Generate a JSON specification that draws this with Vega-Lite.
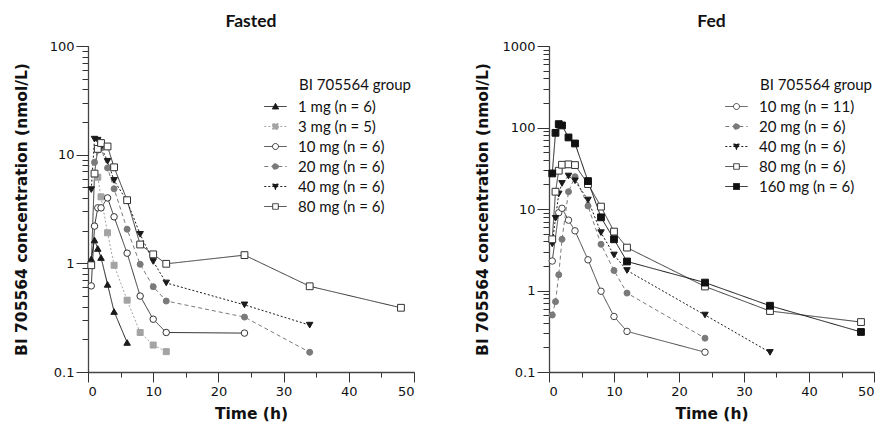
{
  "$schema": "https://vega.github.io/schema/vega-lite/v6.json",
  "padding": {"left": 14, "top": 12, "right": 0, "bottom": 5},
  "config": {
    "view": {"stroke": null},
    "font": "Lato",
    "axis": {
      "domainColor": "#444",
      "domainWidth": 1.3,
      "tickColor": "#333",
      "tickWidth": 1,
      "grid": false,
      "labelFont": "DejaVu Sans",
      "labelFontSize": 13,
      "labelColor": "#111",
      "titleFont": "DejaVu Sans",
      "titleFontWeight": "bold",
      "titleFontSize": 15.5,
      "titleColor": "#111"
    },
    "legend": {
      "orient": "none",
      "padding": 0,
      "titleFont": "Lato",
      "titleFontWeight": "normal",
      "titleFontSize": 15,
      "titleColor": "#111",
      "titlePadding": 6,
      "labelFont": "Lato",
      "labelFontSize": 15,
      "labelColor": "#111",
      "symbolSize": 196,
      "labelOffset": 15,
      "rowPadding": 4,
      "symbolStrokeWidth": 1,
      "symbolOpacity": 1
    },
    "title": {"font": "Lato", "fontSize": 17.5, "fontWeight": "bold", "color": "#111", "frame": "group", "anchor": "middle", "offset": 10}
  },
  "datasets": {
    "fasted": [
      {"g": "1 mg (n = 6)", "t": 0.5, "c": 1.10}, {"g": "1 mg (n = 6)", "t": 1, "c": 1.64}, {"g": "1 mg (n = 6)", "t": 1.5, "c": 1.37}, {"g": "1 mg (n = 6)", "t": 2, "c": 1.13}, {"g": "1 mg (n = 6)", "t": 3, "c": 0.64}, {"g": "1 mg (n = 6)", "t": 4, "c": 0.36}, {"g": "1 mg (n = 6)", "t": 6, "c": 0.187},
      {"g": "3 mg (n = 5)", "t": 1.5, "c": 6.2}, {"g": "3 mg (n = 5)", "t": 2, "c": 4.09}, {"g": "3 mg (n = 5)", "t": 3, "c": 1.91}, {"g": "3 mg (n = 5)", "t": 4, "c": 0.96}, {"g": "3 mg (n = 5)", "t": 6, "c": 0.458}, {"g": "3 mg (n = 5)", "t": 8, "c": 0.231}, {"g": "3 mg (n = 5)", "t": 10, "c": 0.177}, {"g": "3 mg (n = 5)", "t": 12, "c": 0.154},
      {"g": "10 mg (n = 6)", "t": 0.5, "c": 0.62}, {"g": "10 mg (n = 6)", "t": 1, "c": 2.2}, {"g": "10 mg (n = 6)", "t": 1.5, "c": 3.24}, {"g": "10 mg (n = 6)", "t": 2, "c": 3.24}, {"g": "10 mg (n = 6)", "t": 3, "c": 4.0}, {"g": "10 mg (n = 6)", "t": 4, "c": 2.68}, {"g": "10 mg (n = 6)", "t": 6, "c": 1.24}, {"g": "10 mg (n = 6)", "t": 8, "c": 0.50}, {"g": "10 mg (n = 6)", "t": 10, "c": 0.306}, {"g": "10 mg (n = 6)", "t": 12, "c": 0.231}, {"g": "10 mg (n = 6)", "t": 24, "c": 0.228},
      {"g": "20 mg (n = 6)", "t": 1, "c": 8.5}, {"g": "20 mg (n = 6)", "t": 1.5, "c": 11}, {"g": "20 mg (n = 6)", "t": 2, "c": 11.5}, {"g": "20 mg (n = 6)", "t": 3, "c": 7.55}, {"g": "20 mg (n = 6)", "t": 4, "c": 4.85}, {"g": "20 mg (n = 6)", "t": 6, "c": 2.06}, {"g": "20 mg (n = 6)", "t": 8, "c": 0.98}, {"g": "20 mg (n = 6)", "t": 10, "c": 0.61}, {"g": "20 mg (n = 6)", "t": 12, "c": 0.45}, {"g": "20 mg (n = 6)", "t": 24, "c": 0.32}, {"g": "20 mg (n = 6)", "t": 34, "c": 0.152},
      {"g": "40 mg (n = 6)", "t": 0.5, "c": 4.77}, {"g": "40 mg (n = 6)", "t": 1, "c": 13.9}, {"g": "40 mg (n = 6)", "t": 1.5, "c": 13.6}, {"g": "40 mg (n = 6)", "t": 2, "c": 11.8}, {"g": "40 mg (n = 6)", "t": 3, "c": 8.7}, {"g": "40 mg (n = 6)", "t": 4, "c": 5.8}, {"g": "40 mg (n = 6)", "t": 6, "c": 3.73}, {"g": "40 mg (n = 6)", "t": 8, "c": 1.85}, {"g": "40 mg (n = 6)", "t": 10, "c": 1.04}, {"g": "40 mg (n = 6)", "t": 12, "c": 0.66}, {"g": "40 mg (n = 6)", "t": 24, "c": 0.415}, {"g": "40 mg (n = 6)", "t": 34, "c": 0.27},
      {"g": "80 mg (n = 6)", "t": 0.5, "c": 0.96}, {"g": "80 mg (n = 6)", "t": 1, "c": 6.7}, {"g": "80 mg (n = 6)", "t": 1.5, "c": 11.3}, {"g": "80 mg (n = 6)", "t": 2, "c": 12.8}, {"g": "80 mg (n = 6)", "t": 3, "c": 11.9}, {"g": "80 mg (n = 6)", "t": 4, "c": 7.65}, {"g": "80 mg (n = 6)", "t": 6, "c": 3.81}, {"g": "80 mg (n = 6)", "t": 8, "c": 1.49}, {"g": "80 mg (n = 6)", "t": 10, "c": 1.21}, {"g": "80 mg (n = 6)", "t": 12, "c": 0.99}, {"g": "80 mg (n = 6)", "t": 24, "c": 1.19}, {"g": "80 mg (n = 6)", "t": 34, "c": 0.615}, {"g": "80 mg (n = 6)", "t": 48, "c": 0.39}
    ],
    "fed": [
      {"g": "10 mg (n = 11)", "t": 0.5, "c": 2.3}, {"g": "10 mg (n = 11)", "t": 1.5, "c": 9.0}, {"g": "10 mg (n = 11)", "t": 2, "c": 10.2}, {"g": "10 mg (n = 11)", "t": 3, "c": 7.3}, {"g": "10 mg (n = 11)", "t": 4, "c": 5.4}, {"g": "10 mg (n = 11)", "t": 6, "c": 2.38}, {"g": "10 mg (n = 11)", "t": 8, "c": 0.98}, {"g": "10 mg (n = 11)", "t": 10, "c": 0.48}, {"g": "10 mg (n = 11)", "t": 12, "c": 0.315}, {"g": "10 mg (n = 11)", "t": 24, "c": 0.175},
      {"g": "20 mg (n = 6)", "t": 0.5, "c": 0.50}, {"g": "20 mg (n = 6)", "t": 1, "c": 0.73}, {"g": "20 mg (n = 6)", "t": 1.5, "c": 1.56}, {"g": "20 mg (n = 6)", "t": 2, "c": 4.25}, {"g": "20 mg (n = 6)", "t": 3, "c": 16.3}, {"g": "20 mg (n = 6)", "t": 4, "c": 24.9}, {"g": "20 mg (n = 6)", "t": 6, "c": 10.9}, {"g": "20 mg (n = 6)", "t": 8, "c": 3.69}, {"g": "20 mg (n = 6)", "t": 10, "c": 1.76}, {"g": "20 mg (n = 6)", "t": 12, "c": 0.93}, {"g": "20 mg (n = 6)", "t": 24, "c": 0.26},
      {"g": "40 mg (n = 6)", "t": 0.5, "c": 3.73}, {"g": "40 mg (n = 6)", "t": 1, "c": 7.7}, {"g": "40 mg (n = 6)", "t": 1.5, "c": 15.3}, {"g": "40 mg (n = 6)", "t": 2, "c": 20.6}, {"g": "40 mg (n = 6)", "t": 3, "c": 25.4}, {"g": "40 mg (n = 6)", "t": 4, "c": 22.2}, {"g": "40 mg (n = 6)", "t": 6, "c": 12.9}, {"g": "40 mg (n = 6)", "t": 8, "c": 5.13}, {"g": "40 mg (n = 6)", "t": 10, "c": 2.73}, {"g": "40 mg (n = 6)", "t": 12, "c": 1.76}, {"g": "40 mg (n = 6)", "t": 24, "c": 0.50}, {"g": "40 mg (n = 6)", "t": 34, "c": 0.174},
      {"g": "80 mg (n = 6)", "t": 0.5, "c": 4.25}, {"g": "80 mg (n = 6)", "t": 1, "c": 16.3}, {"g": "80 mg (n = 6)", "t": 1.5, "c": 29.5}, {"g": "80 mg (n = 6)", "t": 2, "c": 34.9}, {"g": "80 mg (n = 6)", "t": 3, "c": 35.3}, {"g": "80 mg (n = 6)", "t": 4, "c": 34.6}, {"g": "80 mg (n = 6)", "t": 6, "c": 20.2}, {"g": "80 mg (n = 6)", "t": 8, "c": 10.7}, {"g": "80 mg (n = 6)", "t": 10, "c": 5.28}, {"g": "80 mg (n = 6)", "t": 12, "c": 3.36}, {"g": "80 mg (n = 6)", "t": 24, "c": 1.12}, {"g": "80 mg (n = 6)", "t": 34, "c": 0.56}, {"g": "80 mg (n = 6)", "t": 48, "c": 0.41},
      {"g": "160 mg (n = 6)", "t": 0.5, "c": 27.3}, {"g": "160 mg (n = 6)", "t": 1, "c": 86}, {"g": "160 mg (n = 6)", "t": 1.5, "c": 110}, {"g": "160 mg (n = 6)", "t": 2, "c": 106}, {"g": "160 mg (n = 6)", "t": 3, "c": 75.5}, {"g": "160 mg (n = 6)", "t": 4, "c": 63.7}, {"g": "160 mg (n = 6)", "t": 6, "c": 22}, {"g": "160 mg (n = 6)", "t": 8, "c": 7.9}, {"g": "160 mg (n = 6)", "t": 10, "c": 4.25}, {"g": "160 mg (n = 6)", "t": 12, "c": 2.27}, {"g": "160 mg (n = 6)", "t": 24, "c": 1.25}, {"g": "160 mg (n = 6)", "t": 34, "c": 0.65}, {"g": "160 mg (n = 6)", "t": 48, "c": 0.31}
    ]
  },
  "spacing": 60,
  "resolve": {
    "scale": {"x": "independent", "y": "independent", "color": "independent", "shape": "independent", "fill": "independent", "strokeDash": "independent"},
    "legend": {"color": "independent", "shape": "independent", "fill": "independent", "strokeDash": "independent"}
  },
  "hconcat": [
    {
      "width": 326, "height": 326,
      "title": {"text": "Fasted"},
      "data": {"name": "fasted"},
      "resolve": {"scale": {"x": "independent", "y": "independent"}, "axis": {"x": "independent", "y": "independent"}},
      "layer": [
        {
          "encoding": {
            "x": {"field": "t", "type": "quantitative", "scale": {"domain": [0, 50], "nice": false},
              "axis": {"title": "Time (h)", "values": [0, 5, 10, 15, 20, 25, 30, 35, 40, 45, 50], "labelExpr": "datum.value % 10 == 0 ? datum.label : ''", "tickSize": 5, "labelPadding": 8, "titlePadding": 8}},
            "y": {"field": "c", "type": "quantitative", "scale": {"type": "log", "domain": [0.1, 100], "nice": false},
              "axis": {"title": "BI 705564 concentration (nmol/L)", "values": [0.1, 0.2, 0.3, 0.4, 0.5, 0.6, 0.7, 0.8, 0.9, 1, 2, 3, 4, 5, 6, 7, 8, 9, 10, 20, 30, 40, 50, 60, 70, 80, 90, 100],
                "labelExpr": "indexof([0.1, 1, 10, 100, 1000], datum.value) >= 0 ? format(datum.value, '~g') : ''",
                "tickSize": 6, "labelPadding": 8, "titlePadding": 20}}
          },
          "layer": [
            {
              "mark": {"type": "line", "strokeWidth": 1},
              "encoding": {
                "color": {"field": "g", "type": "nominal", "legend": {"title": "BI 705564 group", "orient": "none", "legendX": 180, "legendY": 32, "encode": {"title": {"update": {"dx": {"value": 31}}}}},
                  "scale": {"domain": ["1 mg (n = 6)", "3 mg (n = 5)", "10 mg (n = 6)", "20 mg (n = 6)", "40 mg (n = 6)", "80 mg (n = 6)"], "range": ["#1a1a1a", "#a3a3a3", "#333333", "#7a7a7a", "#1a1a1a", "#333333"]}},
                "strokeDash": {"field": "g", "type": "nominal", "legend": {"title": "BI 705564 group", "orient": "none", "legendX": 180, "legendY": 32, "encode": {"title": {"update": {"dx": {"value": 31}}}}},
                  "scale": {"domain": ["1 mg (n = 6)", "3 mg (n = 5)", "10 mg (n = 6)", "20 mg (n = 6)", "40 mg (n = 6)", "80 mg (n = 6)"], "range": [[1, 0], [2, 2], [1, 0], [4, 3], [2, 2], [1, 0]]}}
              }
            },
            {"transform": [{"filter": {"field": "g", "equal": "1 mg (n = 6)"}}], "mark": {"type": "point", "shape": "triangle-up", "fill": "#1a1a1a", "stroke": "#1a1a1a", "strokeWidth": 1, "size": 42, "opacity": 1}},
            {"transform": [{"filter": {"field": "g", "equal": "3 mg (n = 5)"}}], "mark": {"type": "point", "shape": "square", "fill": "#a3a3a3", "stroke": "#a3a3a3", "strokeWidth": 1, "size": 36, "opacity": 1}},
            {"transform": [{"filter": {"field": "g", "equal": "10 mg (n = 6)"}}], "mark": {"type": "point", "shape": "circle", "fill": "#ffffff", "stroke": "#333333", "strokeWidth": 1, "size": 42, "opacity": 1}},
            {"transform": [{"filter": {"field": "g", "equal": "20 mg (n = 6)"}}], "mark": {"type": "point", "shape": "circle", "fill": "#7a7a7a", "stroke": "#7a7a7a", "strokeWidth": 1, "size": 36, "opacity": 1}},
            {"transform": [{"filter": {"field": "g", "equal": "40 mg (n = 6)"}}], "mark": {"type": "point", "shape": "triangle-down", "fill": "#1a1a1a", "stroke": "#1a1a1a", "strokeWidth": 1, "size": 42, "opacity": 1}},
            {"transform": [{"filter": {"field": "g", "equal": "80 mg (n = 6)"}}], "mark": {"type": "point", "shape": "square", "fill": "#ffffff", "stroke": "#333333", "strokeWidth": 1, "size": 46, "opacity": 1}},
            {
              "mark": {"type": "point", "opacity": 0, "strokeWidth": 1},
              "encoding": {
                "shape": {"field": "g", "type": "nominal",
                  "scale": {"domain": ["1 mg (n = 6)", "3 mg (n = 5)", "10 mg (n = 6)", "20 mg (n = 6)", "40 mg (n = 6)", "80 mg (n = 6)"],
                    "range": ["M-1.6,0H1.6M0,-0.45L0.45,0.35L-0.45,0.35Z", "M-1.6,0H1.6M-0.4,-0.4H0.4V0.4H-0.4Z", "M-1.6,0H-0.43M0.43,0H1.6M-0.43,0A0.43,0.43,0,1,0,0.43,0A0.43,0.43,0,1,0,-0.43,0Z", "M-1.6,0H1.6M-0.43,0A0.43,0.43,0,1,0,0.43,0A0.43,0.43,0,1,0,-0.43,0Z", "M-1.6,0H1.6M-0.45,-0.35L0.45,-0.35L0,0.45Z", "M-1.6,0H-0.4M0.4,0H1.6M-0.4,-0.4H0.4V0.4H-0.4Z"]},
                  "legend": {"title": "BI 705564 group", "orient": "none", "legendX": 180, "legendY": 32, "encode": {"title": {"update": {"dx": {"value": 31}}}}}},
                "color": {"field": "g", "type": "nominal", "legend": {"title": "BI 705564 group", "orient": "none", "legendX": 180, "legendY": 32, "encode": {"title": {"update": {"dx": {"value": 31}}}}}},
                "fill": {"field": "g", "type": "nominal",
                  "scale": {"domain": ["1 mg (n = 6)", "3 mg (n = 5)", "10 mg (n = 6)", "20 mg (n = 6)", "40 mg (n = 6)", "80 mg (n = 6)"], "range": ["#1a1a1a", "#a3a3a3", "#ffffff", "#7a7a7a", "#1a1a1a", "#ffffff"]},
                  "legend": {"title": "BI 705564 group", "orient": "none", "legendX": 180, "legendY": 32, "encode": {"title": {"update": {"dx": {"value": 31}}}}}}
              }
            }
          ]
        },
        {
          "mark": {"type": "point", "opacity": 0},
          "encoding": {
            "x": {"field": "t", "type": "quantitative", "scale": {"domain": [0, 50], "nice": false},
              "axis": {"orient": "bottom", "title": null, "values": [0, 10, 20, 30, 40, 50], "labels": false, "domain": false, "tickSize": 10}},
            "y": {"field": "c", "type": "quantitative", "scale": {"type": "log", "domain": [0.1, 100], "nice": false},
              "axis": {"orient": "left", "title": null, "values": [0.1, 1, 10, 100], "labels": false, "domain": false, "tickSize": 12}}
          }
        }
      ]
    },
    {
      "width": 325, "height": 326,
      "title": {"text": "Fed"},
      "data": {"name": "fed"},
      "resolve": {"scale": {"x": "independent", "y": "independent"}, "axis": {"x": "independent", "y": "independent"}},
      "layer": [
        {
          "encoding": {
            "x": {"field": "t", "type": "quantitative", "scale": {"domain": [0, 50], "nice": false},
              "axis": {"title": "Time (h)", "values": [0, 5, 10, 15, 20, 25, 30, 35, 40, 45, 50], "labelExpr": "datum.value % 10 == 0 ? datum.label : ''", "tickSize": 5, "labelPadding": 8, "titlePadding": 8}},
            "y": {"field": "c", "type": "quantitative", "scale": {"type": "log", "domain": [0.1, 1000], "nice": false},
              "axis": {"title": "BI 705564 concentration (nmol/L)", "values": [0.1, 0.2, 0.3, 0.4, 0.5, 0.6, 0.7, 0.8, 0.9, 1, 2, 3, 4, 5, 6, 7, 8, 9, 10, 20, 30, 40, 50, 60, 70, 80, 90, 100, 200, 300, 400, 500, 600, 700, 800, 900, 1000],
                "labelExpr": "indexof([0.1, 1, 10, 100, 1000], datum.value) >= 0 ? format(datum.value, '~g') : ''",
                "tickSize": 6, "labelPadding": 8, "titlePadding": 11}}
          },
          "layer": [
            {
              "mark": {"type": "line", "strokeWidth": 1},
              "encoding": {
                "color": {"field": "g", "type": "nominal", "legend": {"title": "BI 705564 group", "orient": "none", "legendX": 180, "legendY": 32, "encode": {"title": {"update": {"dx": {"value": 31}}}}},
                  "scale": {"domain": ["10 mg (n = 11)", "20 mg (n = 6)", "40 mg (n = 6)", "80 mg (n = 6)", "160 mg (n = 6)"], "range": ["#444444", "#7a7a7a", "#1a1a1a", "#333333", "#111111"]}},
                "strokeDash": {"field": "g", "type": "nominal", "legend": {"title": "BI 705564 group", "orient": "none", "legendX": 180, "legendY": 32, "encode": {"title": {"update": {"dx": {"value": 31}}}}},
                  "scale": {"domain": ["10 mg (n = 11)", "20 mg (n = 6)", "40 mg (n = 6)", "80 mg (n = 6)", "160 mg (n = 6)"], "range": [[1, 0], [4, 3], [2, 2], [1, 0], [1, 0]]}}
              }
            },
            {"transform": [{"filter": {"field": "g", "equal": "10 mg (n = 11)"}}], "mark": {"type": "point", "shape": "circle", "fill": "#ffffff", "stroke": "#444444", "strokeWidth": 1, "size": 42, "opacity": 1}},
            {"transform": [{"filter": {"field": "g", "equal": "20 mg (n = 6)"}}], "mark": {"type": "point", "shape": "circle", "fill": "#7a7a7a", "stroke": "#7a7a7a", "strokeWidth": 1, "size": 36, "opacity": 1}},
            {"transform": [{"filter": {"field": "g", "equal": "40 mg (n = 6)"}}], "mark": {"type": "point", "shape": "triangle-down", "fill": "#1a1a1a", "stroke": "#1a1a1a", "strokeWidth": 1, "size": 42, "opacity": 1}},
            {"transform": [{"filter": {"field": "g", "equal": "80 mg (n = 6)"}}], "mark": {"type": "point", "shape": "square", "fill": "#ffffff", "stroke": "#333333", "strokeWidth": 1, "size": 46, "opacity": 1}},
            {"transform": [{"filter": {"field": "g", "equal": "160 mg (n = 6)"}}], "mark": {"type": "point", "shape": "square", "fill": "#111111", "stroke": "#111111", "strokeWidth": 1, "size": 46, "opacity": 1}},
            {
              "mark": {"type": "point", "opacity": 0, "strokeWidth": 1},
              "encoding": {
                "shape": {"field": "g", "type": "nominal",
                  "scale": {"domain": ["10 mg (n = 11)", "20 mg (n = 6)", "40 mg (n = 6)", "80 mg (n = 6)", "160 mg (n = 6)"],
                    "range": ["M-1.6,0H-0.43M0.43,0H1.6M-0.43,0A0.43,0.43,0,1,0,0.43,0A0.43,0.43,0,1,0,-0.43,0Z", "M-1.6,0H1.6M-0.43,0A0.43,0.43,0,1,0,0.43,0A0.43,0.43,0,1,0,-0.43,0Z", "M-1.6,0H1.6M-0.45,-0.35L0.45,-0.35L0,0.45Z", "M-1.6,0H-0.4M0.4,0H1.6M-0.4,-0.4H0.4V0.4H-0.4Z", "M-1.6,0H1.6M-0.43,-0.43H0.43V0.43H-0.43Z"]},
                  "legend": {"title": "BI 705564 group", "orient": "none", "legendX": 180, "legendY": 32, "encode": {"title": {"update": {"dx": {"value": 31}}}}}},
                "color": {"field": "g", "type": "nominal", "legend": {"title": "BI 705564 group", "orient": "none", "legendX": 180, "legendY": 32, "encode": {"title": {"update": {"dx": {"value": 31}}}}}},
                "fill": {"field": "g", "type": "nominal",
                  "scale": {"domain": ["10 mg (n = 11)", "20 mg (n = 6)", "40 mg (n = 6)", "80 mg (n = 6)", "160 mg (n = 6)"], "range": ["#ffffff", "#7a7a7a", "#1a1a1a", "#ffffff", "#111111"]},
                  "legend": {"title": "BI 705564 group", "orient": "none", "legendX": 180, "legendY": 32, "encode": {"title": {"update": {"dx": {"value": 31}}}}}}
              }
            }
          ]
        },
        {
          "mark": {"type": "point", "opacity": 0},
          "encoding": {
            "x": {"field": "t", "type": "quantitative", "scale": {"domain": [0, 50], "nice": false},
              "axis": {"orient": "bottom", "title": null, "values": [0, 10, 20, 30, 40, 50], "labels": false, "domain": false, "tickSize": 10}},
            "y": {"field": "c", "type": "quantitative", "scale": {"type": "log", "domain": [0.1, 1000], "nice": false},
              "axis": {"orient": "left", "title": null, "values": [0.1, 1, 10, 100, 1000], "labels": false, "domain": false, "tickSize": 12}}
          }
        }
      ]
    }
  ]
}
